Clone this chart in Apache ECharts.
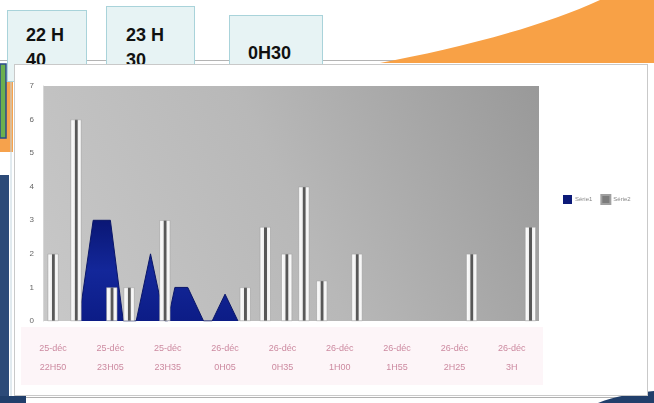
<!DOCTYPE html>
<html>
<head>
<meta charset="utf-8">
<script src="https://cdn.jsdelivr.net/npm/echarts@6/dist/echarts.min.js"></script>
<style>
  html, body { margin: 0; padding: 0; background: #ffffff; }
  body { width: 654px; height: 403px; position: relative; overflow: hidden; font-family: "Liberation Sans", Arial, sans-serif; }
  .deco { position: absolute; }
  .tbox { position: absolute; background: #e7f3f4; border: 1.5px solid #a9d3da; box-sizing: border-box; }
  .tbox span { position: absolute; font-weight: bold; font-size: 18px; line-height: 25px; color: #111; white-space: pre; }
  #chart { position: absolute; left: 14px; top: 64px; width: 634px; height: 332px; background: #fff; border: 1px solid #c9c9c9; box-sizing: border-box; filter: blur(0.6px); }
</style>
</head>
<body>
<!-- slide decorations -->
<svg class="deco" style="left:0;top:0" width="654" height="403">
  <line x1="0" y1="60.5" x2="654" y2="60.5" stroke="#b4b4b4" stroke-width="1"/>
  <path d="M380,63 C450,50 540,28 600,0 L654,0 L654,63 Z" fill="#f8a146"/>
  <rect x="0" y="82" width="13" height="70" fill="#f6a24c"/>
  <rect x="0" y="64" width="6" height="74" fill="#6cb04e" stroke="#2a4a8a" stroke-width="1.5"/>
  <rect x="0" y="175" width="9" height="222" fill="#2c4a78"/>
  <line x1="11" y1="55" x2="11" y2="403" stroke="#c4d6e0" stroke-width="1"/>
  <line x1="0" y1="397.5" x2="654" y2="397.5" stroke="#b0b0b0" stroke-width="1"/>
  <rect x="0" y="396" width="26" height="7" fill="#213f6b"/>
  <path d="M598,403 C615,396 635,393 654,391 L654,403 Z" fill="#213f6b"/>
</svg>
<div class="tbox" style="left:7px;top:10px;width:80px;height:72px"><span style="left:18px;top:12px">22 H
40</span></div>
<div class="tbox" style="left:106px;top:6px;width:89px;height:60px"><span style="left:19px;top:16px">23 H
30</span></div>
<div class="tbox" style="left:229px;top:15px;width:94px;height:50px"><span style="left:18px;top:25px">0H30</span></div>

<div id="chart"></div>
<script>
// time slots: one unit = one quarter of the spacing between labelled instants
const labelSlots = [0, 4, 8, 12, 16, 20, 24, 28, 32];
const labelDates = ['25-déc', '25-déc', '25-déc', '26-déc', '26-déc', '26-déc', '26-déc', '26-déc', '26-déc'];
const labelTimes = ['22H50', '23H05', '23H35', '0H05', '0H35', '1H00', '1H55', '2H25', '3H'];

// Série1: filled area  [slot, count]
const serie1 = [
  [1.8, 0], [2.8, 3], [4.0, 3], [4.9, 0],
  [5.8, 0], [6.8, 2], [7.8, 0],
  [8.0, 0], [8.5, 1], [9.4, 1], [10.5, 0],
  [11.1, 0], [12.0, 0.8], [12.9, 0]
];

// Série2: thin columns  [slot, count]
const serie2 = [
  [0, 2], [1.6, 6], [4.1, 1], [5.3, 1], [7.8, 3], [13.4, 1], [14.8, 2.8],
  [16.3, 2], [17.5, 4], [18.75, 1.2], [21.2, 2], [29.2, 2], [33.3, 2.8]
];

const yTicks = [0, 1, 2, 3, 4, 5, 6, 7];

const chart = echarts.init(document.getElementById('chart'), null, { renderer: 'canvas' });

chart.setOption({
  animation: false,
  graphic: [{
    type: 'rect', z: -10,
    shape: { x: 6, y: 262, width: 522, height: 58 },
    style: { fill: '#fdf5f8' }
  }],
  grid: {
    left: 28, right: 108, top: 21, bottom: 74,
    show: true, borderWidth: 0,
    backgroundColor: new echarts.graphic.LinearGradient(0, 1, 1, 0, [
      { offset: 0, color: '#c8c8c8' },
      { offset: 0.5, color: '#b8b8b8' },
      { offset: 1, color: '#999999' }
    ])
  },
  legend: {
    left: 548, top: 129, orient: 'horizontal', padding: 0,
    itemWidth: 9, itemHeight: 9, itemGap: 8,
    textStyle: { fontSize: 6, color: '#888', fontFamily: 'Liberation Sans', padding: [0, 0, 0, -2] },
    data: [
      { name: 'Série1', icon: 'rect', itemStyle: { color: '#0c1a78' } },
      { name: 'Série2', icon: 'rect', itemStyle: { color: '#7c7c7c' } }
    ]
  },
  xAxis: {
    type: 'value', min: -0.7, max: 33.9,
    splitLine: { show: false },
    axisLine: { show: false },
    axisTick: { show: false },
    axisLabel: {
      customValues: labelSlots,
      margin: 18,
      fontSize: 9, lineHeight: 19,
      color: '#cc8aa0',
      fontFamily: 'Liberation Sans',
      formatter: function (v) {
        const i = labelSlots.indexOf(v);
        return i < 0 ? '' : labelDates[i] + '\n' + labelTimes[i];
      }
    }
  },
  yAxis: {
    type: 'value', min: 0, max: yTicks[yTicks.length - 1], interval: 1,
    splitLine: { show: false },
    axisLine: { show: true, onZero: false, lineStyle: { color: '#d6d6d6' } },
    axisTick: { show: false },
    axisLabel: { margin: 9, fontSize: 8, color: '#666', fontFamily: 'Liberation Sans' }
  },
  series: [
    {
      name: 'Série1', type: 'line', data: serie1, z: 2,
      symbol: 'none', smooth: false,
      lineStyle: { color: '#0a1668', width: 1 },
      areaStyle: {
        opacity: 1,
        color: new echarts.graphic.LinearGradient(0, 0, 0, 1, [
          { offset: 0, color: '#0a1775' },
          { offset: 0.5, color: '#13279a' },
          { offset: 1, color: '#0c1c86' }
        ])
      }
    },
    {
      name: 'Série2', type: 'bar', data: serie2, z: 3,
      barWidth: 11,
      itemStyle: {
        borderColor: '#a0a0a0', borderWidth: 0.5,
        color: new echarts.graphic.LinearGradient(0, 0, 1, 0, [
          { offset: 0, color: '#d6d6d6' },
          { offset: 0.12, color: '#fbfbfb' },
          { offset: 0.36, color: '#f0f0f0' },
          { offset: 0.42, color: '#585858' },
          { offset: 0.62, color: '#585858' },
          { offset: 0.68, color: '#f0f0f0' },
          { offset: 0.9, color: '#fafafa' },
          { offset: 1, color: '#cfcfcf' }
        ])
      }
    }
  ]
});
</script>
</body>
</html>
